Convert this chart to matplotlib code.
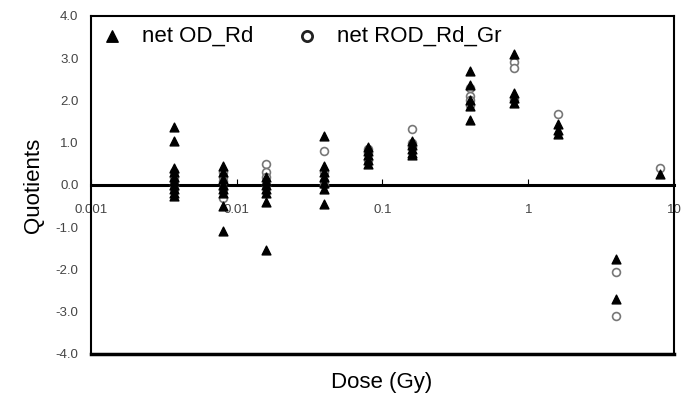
import matplotlib
matplotlib.use("Agg")
import matplotlib.pyplot as plt

plt.rcParams["font.family"] = ["Liberation Sans", "DejaVu Sans"]

# net OD_Rd (filled triangles)
od_dose = [0.0037] * 10 + [0.008] * 8 + [0.016] * 7 + [0.04] * 7 + [0.08] * 5 \
    + [0.16] * 5 + [0.4] * 5 + [0.8] * 4 + [1.6] * 3 + [4.0] * 2 + [8.0]
od_val = [1.38, 1.05, 0.4, 0.3, 0.2, 0.1, 0.0, -0.1, -0.2, -0.25,
          0.45, 0.3, 0.15, 0.0, -0.1, -0.2, -0.5, -1.1,
          0.2, 0.1, 0.0, -0.1, -0.2, -0.4, -1.55,
          1.17, 0.45, 0.3, 0.2, 0.05, -0.1, -0.45,
          0.9, 0.8, 0.7, 0.6, 0.5,
          1.05, 0.95, 0.85, 0.75, 0.7,
          2.71, 2.36, 2.0, 1.88, 1.55,
          3.1, 2.17, 2.05, 1.95,
          1.45, 1.3, 1.2,
          -1.76, -2.7,
          0.26]

# net ROD_Rd_Gr (open circles)
rod_dose = [0.0037] * 5 + [0.008] * 5 + [0.016] * 4 + [0.04] * 4 + [0.08] * 3 \
    + [0.16] * 3 + [0.4] * 4 + [0.8] * 3 + [1.6] + [4.0] * 2 + [8.0]
rod_val = [0.3, 0.2, 0.1, 0.0, -0.1,
           0.3, 0.2, 0.1, -0.1, -0.3,
           0.5, 0.3, 0.2, 0.0,
           0.8, 0.3, 0.1, 0.0,
           0.85, 0.75, 0.6,
           1.33, 1.0, 0.9,
           2.3, 2.1, 2.0, 1.9,
           2.9, 2.76, 2.0,
           1.69,
           -2.05, -3.1,
           0.4]

x_ticks = [0.001, 0.01, 0.1, 1, 10]
x_labels = ["0.001", "0.01", "0.1", "1", "10"]
y_ticks = [-4, -3, -2, -1, 0, 1, 2, 3, 4]

fig = plt.figure(figsize=(6.81, 4.03), dpi=100)
ax = fig.add_axes([0.1336, 0.1216, 0.8561, 0.8387])

ax.scatter(rod_dose, rod_val, marker="o", s=32, facecolors="white",
           edgecolors="#777777", linewidths=1.2, label="net ROD_Rd_Gr", zorder=3)
ax.scatter(od_dose, od_val, marker="^", s=40, color="black",
           label="net OD_Rd", zorder=4)

ax.set_xscale("log")
ax.set_xlim(0.001, 10)
ax.set_ylim(-4, 4)

# x axis sits on the zero line, box drawn around the plot
ax.spines["bottom"].set_position(("data", 0))
ax.spines["bottom"].set_linewidth(2.2)
for s in ["left", "right", "top"]:
    ax.spines[s].set_linewidth(1.5)
ax.plot([0, 1], [0, 0], transform=ax.transAxes, color="black",
        lw=2.5, clip_on=False)

ax.set_xticks(x_ticks)
ax.set_xticklabels(x_labels)
ax.xaxis.set_minor_locator(plt.NullLocator())
ax.tick_params(axis="x", direction="in", length=4, pad=14,
               labelsize=9.5, labelcolor="#444444")
ax.set_yticks(y_ticks)
ax.set_yticklabels([f"{v:.1f}" for v in y_ticks])
ax.tick_params(axis="y", length=0, pad=9, labelsize=9.5, labelcolor="#444444")

ax.set_ylabel("Quotients", fontsize=16, labelpad=8)
fig.text(0.561, 0.05, "Dose (Gy)", fontsize=16, ha="center", va="center")

handles, labels = ax.get_legend_handles_labels()
leg = ax.legend(handles[::-1], labels[::-1], loc="upper left", ncol=2,
                frameon=False, fontsize=16, handlelength=1.0,
                handletextpad=0.85, columnspacing=1.9, borderpad=0.25,
                borderaxespad=0.2, markerscale=1.3)
leg.legend_handles[1].set_edgecolor("#222222")
leg.legend_handles[1].set_linewidth(2)

fig.savefig("out.png", dpi=100)
